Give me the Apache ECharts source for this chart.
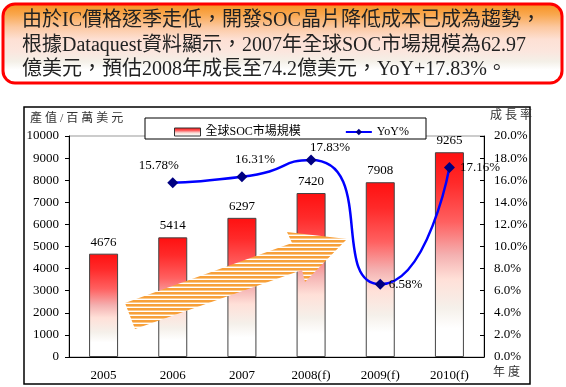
<!DOCTYPE html>
<html>
<head>
<meta charset="utf-8">
<script src="https://cdn.jsdelivr.net/npm/echarts@6/dist/echarts.min.js"></script>
<style>
html,body{margin:0;padding:0;background:#fff;}
#c{width:566px;height:387px;}
</style>
</head>
<body>
<div id="c"></div>
<script>
var categories = ['2005', '2006', '2007', '2008(f)', '2009(f)', '2010(f)'];
var marketValues = [4676, 5414, 6297, 7420, 7908, 9265];
var yoyValues = [null, 15.78, 16.31, 17.83, 6.58, 17.16];
var leftTicks = [0, 10000, 1000];
var rightTicks = [0, 20, 2];
var headerLines = [
  '由於IC價格逐季走低，開發SOC晶片降低成本已成為趨勢，',
  '根據Dataquest資料顯示，2007年全球SOC市場規模為62.97',
  '億美元，預估2008年成長至74.2億美元，YoY+17.83%。'
];
var seriesNames = ['全球SOC市場規模', 'YoY%'];

var FONT = "'Liberation Serif', 'Noto Sans CJK TC', serif";

// stripe pattern for the decorative arrow
var pc = document.createElement('canvas');
pc.width = 4; pc.height = 4;
var pctx = pc.getContext('2d');
pctx.fillStyle = '#ffffff'; pctx.fillRect(0, 0, 4, 4);
pctx.fillStyle = '#f7a03a'; pctx.fillRect(0, 0, 4, 2);
pctx.fillStyle = '#fbc98c'; pctx.fillRect(0, 2, 4, 1);

var barGradient = new echarts.graphic.LinearGradient(0, 0, 0, 1, [
  {offset: 0, color: '#ff1010'},
  {offset: 0.15, color: '#ff2a2a'},
  {offset: 0.34, color: '#ff6060'},
  {offset: 0.5, color: '#f4b0b0'},
  {offset: 0.62, color: '#ffe0d8'},
  {offset: 0.76, color: '#f5f0ea'},
  {offset: 0.86, color: '#ffffff'},
  {offset: 1, color: '#ffffff'}
]);

var lineLabelCfg = [
  null,
  {position: 'top', offset: [-14, 0]},
  {position: 'top', offset: [13, 0]},
  {position: 'top', offset: [19, 5]},
  {position: 'right', offset: [-2, 0]},
  {position: 'right', offset: [0, 0]}
];
var lineData = yoyValues.map(function (v, i) {
  if (v === null) return null;
  var c = lineLabelCfg[i];
  return {value: v, label: {show: true, position: c.position, offset: c.offset}};
});

var chart = echarts.init(document.getElementById('c'), null, {renderer: 'canvas'});
chart.setOption({
  animation: false,
  backgroundColor: '#ffffff',
  textStyle: {fontFamily: FONT},
  grid: {left: 69, right: 82, top: 136, bottom: 30, show: true, borderColor: '#999', borderWidth: 1, z: 0},
  legend: {
    left: 169, top: 121, z: 20,
    itemWidth: 26, itemHeight: 8, itemGap: 44,
    textStyle: {fontFamily: FONT, fontSize: 12, color: '#000'},
    data: [
      {name: seriesNames[0], icon: 'rect', itemStyle: {borderColor: '#333', borderWidth: 1}},
      {name: seriesNames[1]}
    ]
  },
  xAxis: {
    type: 'category',
    data: categories,
    axisLine: {lineStyle: {color: '#000', width: 1}},
    axisTick: {inside: true, length: 4, lineStyle: {color: '#000'}},
    axisLabel: {color: '#000', fontSize: 13, fontFamily: FONT, margin: 12}
  },
  yAxis: [
    {
      type: 'value', min: leftTicks[0], max: leftTicks[1], interval: leftTicks[2],
      axisLine: {show: true, lineStyle: {color: '#000'}},
      axisTick: {show: true, length: 4, lineStyle: {color: '#000'}},
      splitLine: {show: false},
      axisLabel: {color: '#000', fontSize: 13, fontFamily: FONT, margin: 10,
        formatter: function (v) { return String(v); }}
    },
    {
      type: 'value', min: rightTicks[0], max: rightTicks[1], interval: rightTicks[2],
      position: 'right',
      axisLine: {show: true, lineStyle: {color: '#000'}},
      axisTick: {show: true, inside: true, length: 4, lineStyle: {color: '#000'}},
      splitLine: {show: false},
      axisLabel: {color: '#000', fontSize: 13, fontFamily: FONT, margin: 10,
        formatter: function (v) { return v.toFixed(1) + '%'; }}
    }
  ],
  series: [
    {
      name: seriesNames[0], type: 'bar', data: marketValues, barWidth: 29, z: 2,
      itemStyle: {color: barGradient, borderColor: '#444', borderWidth: 1},
      label: {show: true, position: 'top', distance: 5, color: '#000', fontSize: 13, fontFamily: FONT}
    },
    {
      name: seriesNames[1], type: 'line', yAxisIndex: 1, data: lineData, smooth: 0.7, z: 10,
      symbol: 'diamond', symbolSize: 11,
      lineStyle: {color: '#0000ff', width: 2.5},
      itemStyle: {color: '#000080'},
      label: {color: '#000', fontSize: 13, fontFamily: FONT, distance: 5,
        formatter: function (p) { return p.value.toFixed(2) + '%'; }}
    }
  ],
  graphic: [
    {
      type: 'rect', z: 1, silent: true,
      shape: {x: 3, y: 4, width: 559, height: 79, r: 12},
      style: {
        fill: new echarts.graphic.LinearGradient(0, 0, 0, 1, [
          {offset: 0, color: '#f78e18'},
          {offset: 0.15, color: '#f9a850'},
          {offset: 0.3, color: '#fcc8a0'},
          {offset: 0.45, color: '#fde0d4'},
          {offset: 0.6, color: '#fbe6de'},
          {offset: 0.72, color: '#f4f0e8'},
          {offset: 0.82, color: '#ffffff'},
          {offset: 1, color: '#ffffff'}
        ]),
        stroke: '#ff0000', lineWidth: 3
      }
    },
    {type: 'text', z: 2, left: 22, top: 11, style: {text: headerLines[0], font: '20px ' + FONT, fill: '#222'}},
    {type: 'text', z: 2, left: 22, top: 36, style: {text: headerLines[1], font: '20px ' + FONT, fill: '#222'}},
    {type: 'text', z: 2, left: 22, top: 60, style: {text: headerLines[2], font: '20px ' + FONT, fill: '#222'}},
    {
      type: 'rect', z: 0, silent: true,
      shape: {x: 24, y: 107, width: 506, height: 277},
      style: {fill: 'none', stroke: '#000', lineWidth: 1.5}
    },
    {
      type: 'rect', z: 15, silent: true,
      shape: {x: 145, y: 118, width: 281, height: 21},
      style: {fill: '#fff', stroke: '#000', lineWidth: 1}
    },
    {
      type: 'polygon', z: 5, silent: true,
      shape: {points: [[125, 303], [292, 243], [287, 232], [347, 239], [305, 282], [302, 270], [135, 329]]},
      style: {fill: {image: pc, repeat: 'repeat'}}
    },
    {type: 'text', z: 2, left: 30, top: 113, style: {text: '產 值 / 百 萬 美 元', font: '12px ' + FONT, fill: '#333'}},
    {type: 'text', z: 2, left: 490, top: 110, style: {text: '成 長 率', font: '12px ' + FONT, fill: '#333'}},
    {type: 'text', z: 2, left: 493, top: 367, style: {text: '年 度', font: '12px ' + FONT, fill: '#333'}}
  ]
});
</script>
</body>
</html>
